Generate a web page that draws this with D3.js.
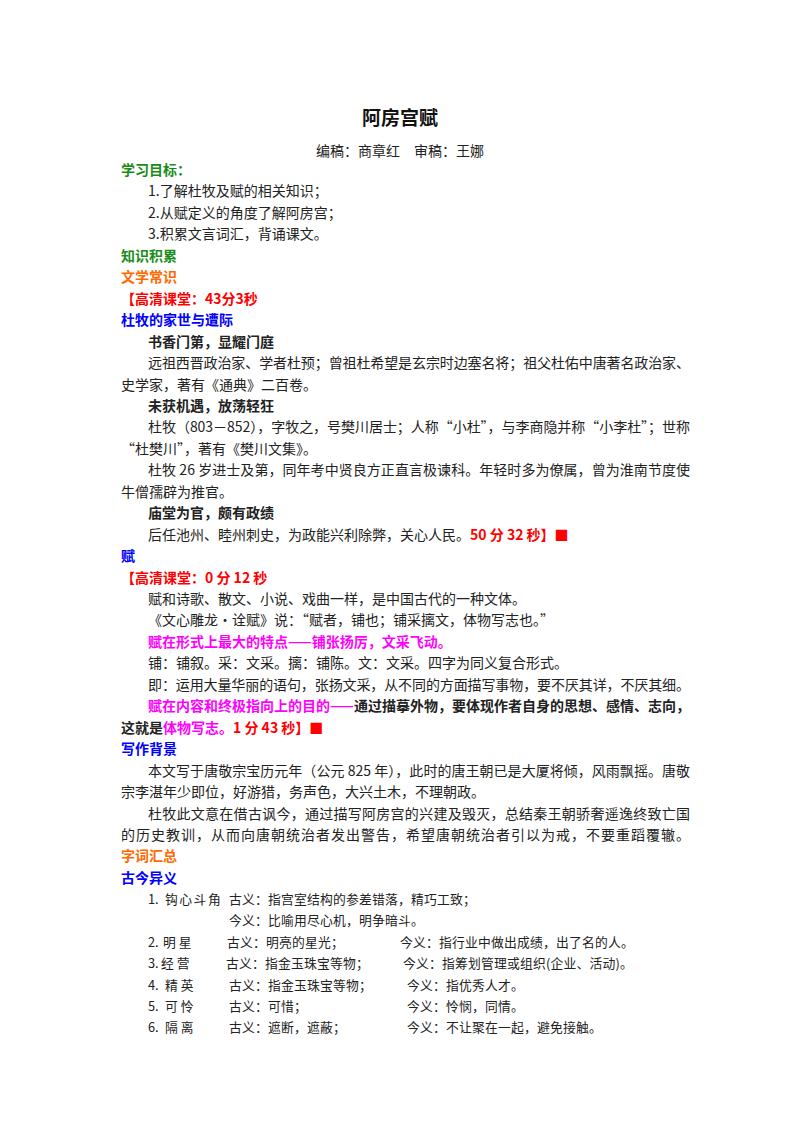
<!DOCTYPE html>
<html><head><meta charset="utf-8">
<script src="https://cdn.jsdelivr.net/npm/d3@7"></script>
<style>body{margin:0;background:#fff}</style>
</head><body>
<script>
const G="#1a8c1a",O="#ff6a00",R="#ff0000",B="#0000ff",M="#ff00ff",K="#222";
// lines: [indent(0=left,1=indent), justify, segments [text,color,bold]]
const lines=[
 [1,0,[["1.了解杜牧及赋的相关知识；",K,0]]],
 [1,0,[["2.从赋定义的角度了解阿房宫；",K,0]]],
 [1,0,[["3.积累文言词汇，背诵课文。",K,0]]],
 [0,0,[["知识积累",G,1]]],
 [0,0,[["文学常识",O,1]]],
 [0,0,[["【高清课堂：43分3秒",R,1]]],
 [0,0,[["杜牧的家世与遭际",B,1]]],
 [1,0,[["书香门第，显耀门庭",K,1]]],
 [1,1,[["远祖西晋政治家、学者杜预；曾祖杜希望是玄宗时边塞名将；祖父杜佑中唐著名政治家、",K,0]]],
 [0,0,[["史学家，著有《通典》二百卷。",K,0]]],
 [1,0,[["未获机遇，放荡轻狂",K,1]]],
 [1,1,[["杜牧（803－852），字牧之，号樊川居士；人称“小杜”，与李商隐并称“小李杜”；世称",K,0]]],
 [0,0,[["“杜樊川”，著有《樊川文集》。",K,0]]],
 [1,1,[["杜牧 26 岁进士及第，同年考中贤良方正直言极谏科。年轻时多为僚属，曾为淮南节度使",K,0]]],
 [0,0,[["牛僧孺辟为推官。",K,0]]],
 [1,0,[["庙堂为官，颇有政绩",K,1]]],
 [1,0,[["后任池州、睦州刺史，为政能兴利除弊，关心人民。",K,0],["50 分 32 秒】■",R,1]]],
 [0,0,[["赋",B,1]]],
 [0,0,[["【高清课堂：0 分 12 秒",R,1]]],
 [1,0,[["赋和诗歌、散文、小说、戏曲一样，是中国古代的一种文体。",K,0]]],
 [1,0,[["《文心雕龙•诠赋》说：“赋者，铺也；铺采摛文，体物写志也。”",K,0]]],
 [1,0,[["赋在形式上最大的特点——铺张扬厉，文采飞动。",M,1]]],
 [1,0,[["铺：铺叙。采：文采。摛：铺陈。文：文采。四字为同义复合形式。",K,0]]],
 [1,1,[["即：运用大量华丽的语句，张扬文采，从不同的方面描写事物，要不厌其详，不厌其细。",K,0]]],
 [1,1,[["赋在内容和终极指向上的目的——",M,1],["通过描摹外物，要体现作者自身的思想、感情、志向，",K,1]]],
 [0,0,[["这就是",K,1],["体物写志。",M,1],["1 分 43 秒】■",R,1]]],
 [0,0,[["写作背景",B,1]]],
 [1,1,[["本文写于唐敬宗宝历元年（公元 825 年），此时的唐王朝已是大厦将倾，风雨飘摇。唐敬",K,0]]],
 [0,0,[["宗李湛年少即位，好游猎，务声色，大兴土木，不理朝政。",K,0]]],
 [1,1,[["杜牧此文意在借古讽今，通过描写阿房宫的兴建及毁灭，总结秦王朝骄奢遥逸终致亡国",K,0]]],
 [0,1,[["的历史教训，从而向唐朝统治者发出警告，希望唐朝统治者引以为戒，不要重蹈覆辙。",K,0]]],
 [0,0,[["字词汇总",O,1]]],
 [0,0,[["古今异义",B,1]]]
];
const nums=["1.","","2.","3.","4.","5.","6."];
const terms=["钩心斗角","","明星","经营","精英","可怜","隔离"];
const gu=["古义：指宫室结构的参差错落，精巧工致；","今义：比喻用尽心机，明争暗斗。","古义：明亮的星光；","古义：指金玉珠宝等物；","古义：指金玉珠宝等物；","古义：可惜；","古义：遮断，遮蔽；"];
const jin=["","","今义：指行业中做出成绩，出了名的人。","今义：指筹划管理或组织(企业、活动)。","今义：指优秀人才。","今义：怜悯，同情。","今义：不让聚在一起，避免接触。"];
const guX=[229,229,227,226,229,229,229], jinX=[0,0,400,403,407,407,407], termX=[165,0,163,161,165,165,165];

const W=800,H=1132,L=121,IND=148,RGT=690,Y0=171,LH=21.45;
const svg=d3.select("body").append("svg").attr("width",W).attr("height",H)
 .style("font-family","'Noto Sans CJK SC',sans-serif");
svg.append("text").attr("x",400).attr("y",120).attr("text-anchor","middle").attr("dominant-baseline","middle")
 .attr("font-size",19).attr("font-weight","bold").attr("fill","#111").text("阿房宫赋");
svg.append("text").attr("x",400).attr("y",152).attr("text-anchor","middle").attr("dominant-baseline","middle")
 .attr("font-size",14).attr("fill",K).text("编稿：商章红　审稿：王娜");
svg.append("text").attr("x",L).attr("y",Y0).attr("dominant-baseline","middle").attr("font-size",14)
 .attr("font-weight","bold").attr("fill",G).text("学习目标：");
const y=d3.scaleLinear().domain([0,1]).range([Y0+LH,Y0+2*LH]);
svg.selectAll("text.ln").data(lines).join("text").attr("class","ln")
 .attr("x",d=>d[0]?IND:L).attr("y",(d,i)=>y(i)).attr("dominant-baseline","middle").attr("font-size",14)
 .each(function(d){
   const t=d3.select(this);
   d[2].forEach(s=>t.append("tspan").attr("fill",s[1]).attr("font-weight",s[2]?"bold":"normal").text(s[0]));
   if(d[1]) t.attr("textLength",RGT-(d[0]?IND:L)).attr("lengthAdjust","spacing");
 });
const base=lines.length;
terms.forEach((t,i)=>{
  const yy=y(base+i);
  const a=(x,s,ls)=>svg.append("text").attr("x",x).attr("y",yy).attr("dominant-baseline","middle").attr("font-size",12.8)
    .attr("letter-spacing",ls||0).attr("fill",K).text(s);
  if(t){ a(IND,nums[i]); a(termX[i],t,t.length>2?1.5:3); }
  a(guX[i],gu[i],0.2);
  if(jin[i]) a(jinX[i],jin[i],0.2);
});
</script>
</body></html>
